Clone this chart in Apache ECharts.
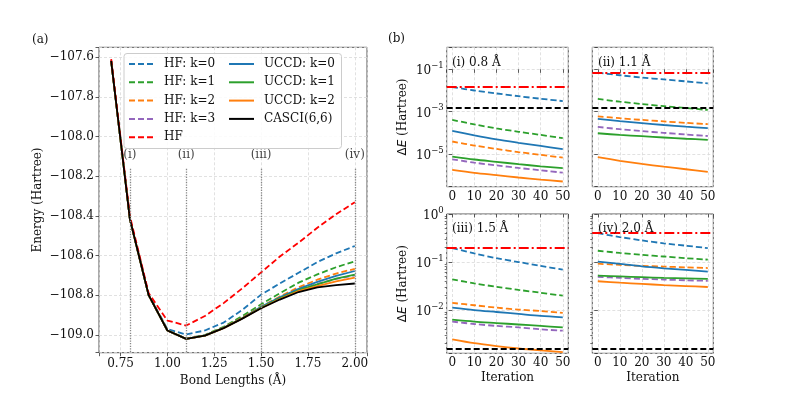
<!DOCTYPE html>
<html>
<head>
<meta charset="utf-8">
<script src="https://cdn.jsdelivr.net/npm/echarts@6/dist/echarts.min.js"></script>
<style>
  html, body { margin: 0; padding: 0; background: #fff; }
  #chart { width: 793px; height: 397px; }
</style>
</head>
<body>
<div id="chart"></div>
<script>
// ---- (a) energies vs bond length (Hartree) ----
const bondLengths = [0.7, 0.8, 0.9, 1.0, 1.1, 1.2, 1.3, 1.4, 1.5, 1.6, 1.7, 1.8, 1.9, 2.0];
const eHF     = [-107.610, -108.402, -108.790, -108.928, -108.953, -108.905, -108.840, -108.765, -108.685, -108.605, -108.535, -108.460, -108.392, -108.331];
const eHFk0   = [-107.615, -108.414, -108.796, -108.971, -108.998, -108.978, -108.938, -108.874, -108.797, -108.741, -108.687, -108.633, -108.589, -108.552];
const eHFk1   = [-107.619, -108.417, -108.800, -108.977, -109.019, -109.001, -108.959, -108.905, -108.846, -108.790, -108.737, -108.695, -108.659, -108.629];
const eHFk2   = [-107.619, -108.417, -108.800, -108.978, -109.020, -109.003, -108.963, -108.913, -108.857, -108.807, -108.760, -108.722, -108.691, -108.667];
const eHFk3   = [-107.619, -108.417, -108.800, -108.978, -109.020, -109.004, -108.965, -108.916, -108.862, -108.815, -108.774, -108.743, -108.718, -108.700];
const eUCCDk0 = [-107.619, -108.417, -108.800, -108.978, -109.020, -109.003, -108.964, -108.915, -108.859, -108.811, -108.768, -108.733, -108.703, -108.678];
const eUCCDk1 = [-107.619, -108.417, -108.800, -108.978, -109.020, -109.004, -108.965, -108.916, -108.862, -108.816, -108.775, -108.746, -108.717, -108.696];
const eUCCDk2 = [-107.619, -108.417, -108.800, -108.978, -109.020, -109.004, -108.966, -108.917, -108.865, -108.819, -108.779, -108.754, -108.730, -108.711];
const eCASCI  = [-107.619, -108.417, -108.800, -108.978, -109.020, -109.004, -108.966, -108.918, -108.866, -108.822, -108.784, -108.761, -108.749, -108.741];

const markedBonds = [0.8, 1.1, 1.5, 2.0];
const markedTags = ['(i)', '(ii)', '(iii)', '(iv)'];

// ---- (b) error vs iteration, stored as log10(dE / Hartree) ----
const iterations = [0, 10, 20, 30, 40, 50];
const chemAccuracy = 0.0016;
const panelTitles = ['(i) 0.8 Å', '(ii) 1.1 Å', '(iii) 1.5 Å', '(iv) 2.0 Å'];
const logHFref = [-1.835, -1.16, -0.71, -0.383];

const p08_hfk0 = [-1.84, -2.00, -2.14, -2.27, -2.39, -2.50];
const p08_hfk1 = [-3.39, -3.60, -3.79, -3.95, -4.10, -4.25];
const p08_hfk2 = [-4.41, -4.60, -4.76, -4.91, -5.04, -5.17];
const p08_hfk3 = [-5.25, -5.41, -5.54, -5.66, -5.77, -5.88];
const p08_cck0 = [-3.91, -4.12, -4.31, -4.47, -4.62, -4.77];
const p08_cck1 = [-5.12, -5.26, -5.37, -5.48, -5.58, -5.67];
const p08_cck2 = [-5.75, -5.89, -6.00, -6.11, -6.21, -6.30];

const p11_hfk0 = [-1.16, -1.28, -1.39, -1.48, -1.57, -1.66];
const p11_hfk1 = [-2.40, -2.53, -2.64, -2.74, -2.83, -2.92];
const p11_hfk2 = [-3.22, -3.31, -3.39, -3.46, -3.53, -3.59];
const p11_hfk3 = [-3.72, -3.83, -3.92, -4.00, -4.08, -4.15];
const p11_cck0 = [-3.34, -3.45, -3.54, -3.63, -3.71, -3.78];
const p11_cck1 = [-4.02, -4.10, -4.16, -4.22, -4.28, -4.33];
const p11_cck2 = [-5.15, -5.32, -5.47, -5.60, -5.72, -5.84];

const p15_hfk0 = [-0.71, -0.82, -0.92, -1.00, -1.08, -1.16];
const p15_hfk1 = [-1.36, -1.445, -1.515, -1.58, -1.64, -1.70];
const p15_hfk2 = [-1.85, -1.90, -1.95, -1.99, -2.02, -2.06];
const p15_hfk3 = [-2.24, -2.29, -2.33, -2.36, -2.40, -2.43];
const p15_cck0 = [-1.95, -2.00, -2.04, -2.08, -2.12, -2.15];
const p15_cck1 = [-2.20, -2.24, -2.27, -2.30, -2.33, -2.36];
const p15_cck2 = [-2.61, -2.69, -2.75, -2.80, -2.84, -2.875];

const p20_hfk0 = [-0.40, -0.48, -0.55, -0.61, -0.66, -0.71];
const p20_hfk1 = [-0.765, -0.81, -0.85, -0.885, -0.92, -0.95];
const p20_hfk2 = [-1.035, -1.06, -1.08, -1.095, -1.11, -1.125];
const p20_hfk3 = [-1.31, -1.33, -1.35, -1.365, -1.38, -1.39];
const p20_cck0 = [-0.99, -1.04, -1.09, -1.13, -1.165, -1.20];
const p20_cck1 = [-1.285, -1.30, -1.315, -1.33, -1.34, -1.35];
const p20_cck2 = [-1.40, -1.43, -1.455, -1.48, -1.50, -1.52];

const panelCurves = [
    [p08_hfk0, p08_hfk1, p08_hfk2, p08_hfk3, p08_cck0, p08_cck1, p08_cck2],
    [p11_hfk0, p11_hfk1, p11_hfk2, p11_hfk3, p11_cck0, p11_cck1, p11_cck2],
    [p15_hfk0, p15_hfk1, p15_hfk2, p15_hfk3, p15_cck0, p15_cck1, p15_cck2],
    [p20_hfk0, p20_hfk1, p20_hfk2, p20_hfk3, p20_cck0, p20_cck1, p20_cck2]
];

// ---- styling ----
const FONT = "'DejaVu Serif', serif";
const INK = '#111';
const FRAME = '#555';
const BLUE = '#1f77b4', ORANGE = '#ff7f0e', GREEN = '#2ca02c', PURPLE = '#9467bd', RED = '#ff0000';
const DASH = [6, 3], DASHDOT = [10, 3, 2, 3];
const LW = 1.8;

const curveStyles = [
    { name: 'HF: k=0', color: BLUE, type: DASH },
    { name: 'HF: k=1', color: GREEN, type: DASH },
    { name: 'HF: k=2', color: ORANGE, type: DASH },
    { name: 'HF: k=3', color: PURPLE, type: DASH },
    { name: 'UCCD: k=0', color: BLUE, type: 'solid' },
    { name: 'UCCD: k=1', color: GREEN, type: 'solid' },
    { name: 'UCCD: k=2', color: ORANGE, type: 'solid' }
];
const leftCurves = [eHFk0, eHFk1, eHFk2, eHFk3, eUCCDk0, eUCCDk1, eUCCDk2];

const gridLine = { show: true, lineStyle: { color: '#d9d9d9', type: [3, 2], width: 0.8 } };
const tick = { show: true, length: 3.5, lineStyle: { color: '#333', width: 0.8 } };
const label = (extra) => Object.assign({ color: INK, fontFamily: FONT, fontSize: 12 }, extra);

function onStep(v, step) {
    const k = v / step;
    return Math.abs(k - Math.round(k)) < 1e-6;
}

// right panels: grid boxes
const rightGrids = [
    { left: 446.7, top: 47.3, width: 121.6, height: 139.4 },
    { left: 592.3, top: 47.3, width: 121.0, height: 139.4 },
    { left: 446.7, top: 214, width: 121.6, height: 139.3 },
    { left: 592.3, top: 214, width: 121.0, height: 139.3 }
];
// top row: exponent shifted by 1 so that major ticks land on odd decades
const rowShift = [1, 1, 0, 0];
const rowRange = [[-6.545, 0.04], [-6.545, 0.04], [-2.9, 0.0], [-2.9, 0.0]];
const rowStep = [2, 2, 1, 1];

function supExp(e) {
    return '{n|10}{e|' + (e < 0 ? '\u2212' + (-e) : String(e)) + '}';
}

const grids = [{ left: 99, top: 47.3, width: 268, height: 305.4, show: true, borderColor: FRAME, borderWidth: 1 }]
    .concat(rightGrids.map(g => Object.assign({ show: true, borderColor: FRAME, borderWidth: 1 }, g)));

const xAxes = [{
    type: 'value', gridIndex: 0, min: 0.635, max: 2.065, minInterval: 0.25, maxInterval: 0.25,
    name: 'Bond Lengths (Å)', nameLocation: 'middle', nameGap: 20,
    nameTextStyle: label({}),
    axisLine: { show: false }, axisTick: tick, splitLine: gridLine,
    axisLabel: label({ margin: 5, formatter: v => onStep(v, 0.25) ? v.toFixed(2) : '' })
}];
const yAxes = [{
    type: 'value', gridIndex: 0, min: -109.09, max: -107.55, minInterval: 0.2, maxInterval: 0.2,
    name: 'Energy (Hartree)', nameLocation: 'middle', nameGap: 55,
    nameTextStyle: label({}),
    axisLine: { show: false }, axisTick: tick, splitLine: gridLine,
    axisLabel: label({ margin: 5, formatter: v => onStep(v, 0.2) ? v.toFixed(1).replace('-', '\u2212') : '' })
}];

rightGrids.forEach((g, p) => {
    const bottomRow = p >= 2;
    const leftCol = p % 2 === 0;
    xAxes.push({
        type: 'value', gridIndex: p + 1, min: -2.5, max: 52.5, minInterval: 10, maxInterval: 10,
        name: bottomRow ? 'Iteration' : '', nameLocation: 'middle', nameGap: 19,
        nameTextStyle: label({}),
        axisLine: { show: false }, axisTick: tick, splitLine: gridLine,
        axisLabel: label({ margin: 4, formatter: v => onStep(v, 10) ? String(Math.round(v)) : '' })
    });
    const s = rowShift[p];
    yAxes.push({
        type: 'value', gridIndex: p + 1,
        min: rowRange[p][0] + s, max: rowRange[p][1] + s,
        minInterval: rowStep[p], maxInterval: rowStep[p],
        name: leftCol ? '{d|\u0394}{e|E}{t| (Hartree)}' : '', nameLocation: 'middle', nameGap: 38,
        nameTextStyle: label({
            rich: {
                d: { fontFamily: "'DejaVu Sans', sans-serif", fontSize: 12, color: INK },
                e: { fontFamily: "'DejaVu Sans', sans-serif", fontStyle: 'italic', fontSize: 12, color: INK },
                t: { fontFamily: FONT, fontSize: 12, color: INK }
            }
        }),
        axisLine: { show: false }, axisTick: tick, splitLine: gridLine,
        axisLabel: {
            show: leftCol, margin: 3,
            formatter: v => onStep(v - s, 1) ? supExp(Math.round(v - s)) : '',
            rich: {
                n: { fontFamily: FONT, fontSize: 12, color: INK, verticalAlign: 'bottom', lineHeight: 16 },
                e: { fontFamily: FONT, fontSize: 8.5, color: INK, verticalAlign: 'top', lineHeight: 16 }
            }
        }
    });
});

// minor log ticks on the lower row
const minorLog = [];
[-3, -2, -1].forEach(n => {
    [2, 3, 4, 5, 6, 7, 8, 9].forEach(k => {
        const v = n + Math.log10(k);
        if (v > -2.9) minorLog.push(v);
    });
});
[3, 4].forEach(gi => {
    yAxes.push({
        type: 'value', gridIndex: gi, min: -2.9, max: 0, position: 'left',
        axisLine: { show: false }, axisLabel: { show: false }, splitLine: { show: false },
        axisTick: { show: true, length: 2, lineStyle: { color: '#333', width: 0.7 }, customValues: minorLog }
    });
});

const series = [];
// (a)
curveStyles.forEach((c, i) => {
    series.push({
        name: c.name, type: 'line', xAxisIndex: 0, yAxisIndex: 0,
        data: bondLengths.map((x, j) => [x, leftCurves[i][j]]),
        symbol: 'none', showSymbol: false, z: 3,
        lineStyle: { color: c.color, type: c.type, width: LW }, itemStyle: { color: c.color }
    });
});
series.push({
    name: 'HF', type: 'line', xAxisIndex: 0, yAxisIndex: 0,
    data: bondLengths.map((x, j) => [x, eHF[j]]),
    symbol: 'none', showSymbol: false, z: 3,
    lineStyle: { color: RED, type: DASH, width: LW }, itemStyle: { color: RED }
});
series.push({
    name: 'CASCI(6,6)', type: 'line', xAxisIndex: 0, yAxisIndex: 0,
    data: bondLengths.map((x, j) => [x, eCASCI[j]]),
    symbol: 'none', showSymbol: false, z: 4,
    lineStyle: { color: '#000', width: LW }, itemStyle: { color: '#000' },
    markLine: {
        silent: true, symbol: 'none', label: { show: false },
        lineStyle: { color: '#888', type: 'dotted', width: 1.3 },
        data: markedBonds.map(b => [{ coord: [b, -108.163] }, { coord: [b, -109.09] }])
    }
});
series.push({
    name: 'tags', type: 'scatter', xAxisIndex: 0, yAxisIndex: 0, symbolSize: 0, silent: true,
    data: markedBonds.map((b, i) => [b, -108.092, markedTags[i]]),
    label: label({ show: true, position: 'inside', formatter: p => p.data[2] })
});

// (b)
panelCurves.forEach((curves, p) => {
    const s = rowShift[p];
    curves.forEach((vals, i) => {
        const c = curveStyles[i];
        const ser = {
            name: c.name, type: 'line', xAxisIndex: p + 1, yAxisIndex: p + 1,
            data: iterations.map((it, j) => [it, vals[j] + s]),
            symbol: 'none', showSymbol: false, smooth: 0.3, z: 3,
            lineStyle: { color: c.color, type: c.type, width: LW }, itemStyle: { color: c.color }
        };
        if (i === 0) {
            ser.markLine = {
                silent: true, symbol: 'none', label: { show: false },
                data: [
                    { yAxis: logHFref[p] + s, lineStyle: { color: RED, type: DASHDOT, width: 2 } },
                    { yAxis: Math.log10(chemAccuracy) + s, lineStyle: { color: '#000', type: DASH, width: 2 } }
                ]
            };
        }
        series.push(ser);
    });
});

const titles = [
    { text: '(a)', left: 32, top: 34 },
    { text: '(b)', left: 388, top: 33 },
    { text: panelTitles[0], left: 452, top: 57 },
    { text: panelTitles[1], left: 598, top: 57 },
    { text: panelTitles[2], left: 452, top: 223 },
    { text: panelTitles[3], left: 598, top: 223 }
].map(t => Object.assign(t, { padding: 0, textStyle: { fontFamily: FONT, fontSize: 12, fontWeight: 'normal', color: INK } }));

const legendBase = {
    orient: 'vertical', padding: 0, itemWidth: 25, itemHeight: 12, itemGap: 6.3, z: 6,
    itemStyle: { opacity: 0 },
    textStyle: { fontFamily: FONT, fontSize: 12, color: INK, padding: [0, 0, 0, 5] }
};

const chart = echarts.init(document.getElementById('chart'));
chart.setOption({
    animation: false,
    backgroundColor: '#fff',
    title: titles,
    grid: grids,
    xAxis: xAxes,
    yAxis: yAxes,
    legend: [
        Object.assign({ left: 128, top: 58, data: ['HF: k=0', 'HF: k=1', 'HF: k=2', 'HF: k=3', 'HF'] }, legendBase),
        Object.assign({ left: 228, top: 58, data: ['UCCD: k=0', 'UCCD: k=1', 'UCCD: k=2', 'CASCI(6,6)'] }, legendBase)
    ],
    graphic: [{
        type: 'rect', z: 5,
        shape: { x: 124, y: 53.5, width: 217.5, height: 95, r: 3 },
        style: { fill: 'rgba(255,255,255,0.85)', stroke: '#cccccc', lineWidth: 1 }
    }],
    series: series
});
</script>
</body>
</html>
